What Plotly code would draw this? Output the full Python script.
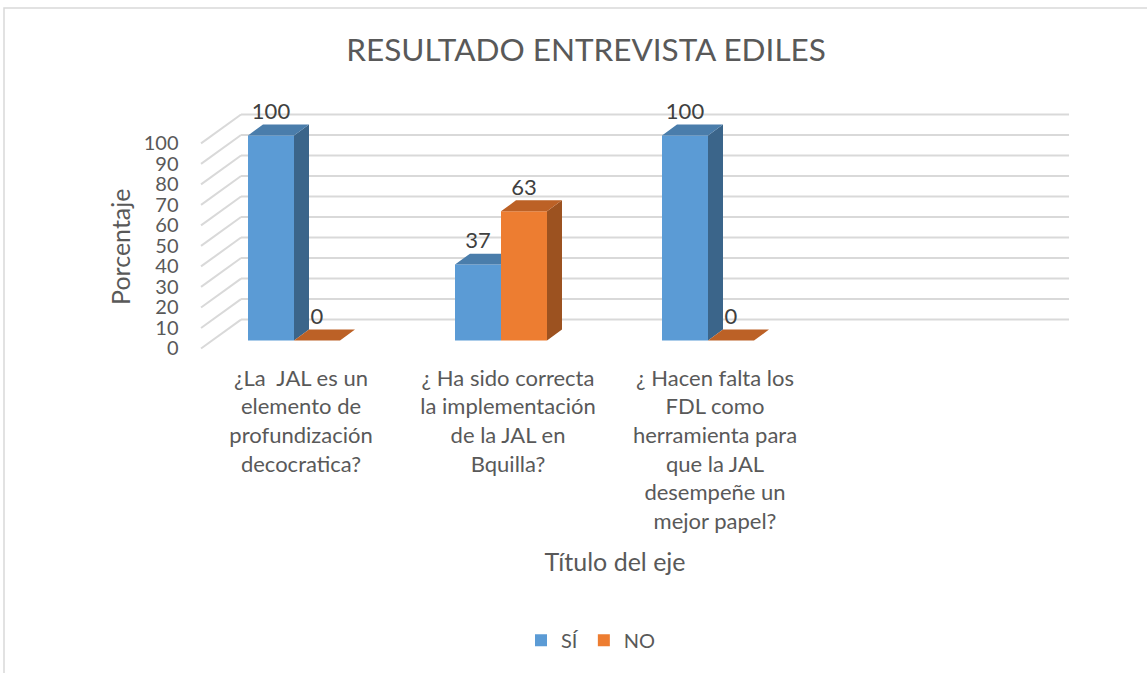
import plotly.graph_objects as go

# ---------------- data ----------------
categories = [
    "¿La  JAL es un<br>elemento de<br>profundización<br>decocratica?",
    "¿ Ha sido correcta<br>la implementación<br>de la JAL en<br>Bquilla?",
    "¿ Hacen falta los<br>FDL como<br>herramienta para<br>que la JAL<br>desempeñe un<br>mejor papel?",
]
series_names = ["SÍ", "NO"]
si_values = [100, 37, 100]
no_values = [0, 63, 0]
y_ticks = [0, 10, 20, 30, 40, 50, 60, 70, 80, 90, 100]
chart_title = "RESULTADO ENTREVISTA EDILES"
y_title = "Porcentaje"
x_title = "Título del eje"

# ---------------- styling / geometry ----------------
W, H = 1147, 673
FONT = "Lato"
TXT = "#595959"
front_cols = ["#5B9BD5", "#ED7D31"]
side_cols = ["#3B658A", "#9C5220"]
top_cols = ["#4A7DAB", "#BC6126"]
GRID = "#D9D9D9"

CAT_PX = 207.0      # pixels per category
VAL_PX = 2.06       # pixels per value unit
X0_PX = 294.0       # pixel of category 0 (bar plane)
Y0_PX = 339.0       # pixel of value 0 (bar plane)
XR = [-0.5, 3.8]
YR = [-6, 125]
YR3 = [-6, 105]
XR4 = [-0.5, 3.534]

bw = 46 / CAT_PX                     # bar width in category units
dx, dy = 15 / CAT_PX, 11 / VAL_PX    # bar depth
fx, fy = -11 / CAT_PX, -8 / VAL_PX   # front plane offset
bx, by = 29 / CAT_PX, 21 / VAL_PX    # back plane offset
wall_l, wall_r = -0.396, 3.604

def xdom(rng, shift_px=0):
    return [(X0_PX + rng[0] * CAT_PX + shift_px) / W, (X0_PX + rng[1] * CAT_PX + shift_px) / W]

def ydom(rng, base_px):
    return [1 - (base_px - rng[0] * VAL_PX) / H, 1 - (base_px - rng[1] * VAL_PX) / H]

fig = go.Figure()

offsets = [-bw, 0.0]
all_vals = [si_values, no_values]
idx = list(range(len(categories)))

for s, (name, vals) in enumerate(zip(series_names, all_vals)):
    fig.add_trace(go.Bar(
        x=idx, y=vals, name=name, width=[bw] * len(idx), offset=[offsets[s]] * len(idx),
        marker=dict(color=front_cols[s], line=dict(width=0)),
        zorder=2 * s, hoverinfo="skip",
    ))
    sx, sy, tx, ty = [], [], [], []
    for i, v in enumerate(vals):
        xl = i + offsets[s]
        xr = xl + bw
        h = all_vals[s + 1][i] if s + 1 < len(all_vals) else 0
        if h < v + dy:
            lo = max(h, 0)
            if lo <= 0:
                sx += [xr, xr + dx, xr + dx, xr, xr, None]
                sy += [0, dy, v + dy, v, 0, None]
            else:
                sx += [xr, xr + dx, xr + dx, xr, xr, None]
                sy += [min(lo, v), max(lo, dy), v + dy, v, min(lo, v), None]
        tx += [xl, xl + dx, xr + dx, xr, xl, None]
        ty += [v, v + dy, v + dy, v, v, None]
    fig.add_trace(go.Scatter(x=sx, y=sy, mode="lines", fill="toself", fillcolor=side_cols[s],
                             line=dict(width=0, color=side_cols[s]), showlegend=False,
                             hoverinfo="skip", zorder=2 * s + 1))
    fig.add_trace(go.Scatter(x=tx, y=ty, mode="lines", fill="toself", fillcolor=top_cols[s],
                             line=dict(width=0, color=top_cols[s]), showlegend=False,
                             hoverinfo="skip", zorder=2 * s + 1))
    fig.add_trace(go.Scatter(
        x=[i + offsets[s] + bw / 2 for i in idx], y=[v + dy for v in vals],
        text=[str(v) for v in vals], mode="text", textposition="top center",
        textfont=dict(family=FONT, size=22, color="#404040"),
        showlegend=False, hoverinfo="skip", zorder=10,
    ))

fig.add_trace(go.Scatter(x=[None], y=[None], xaxis="x3", yaxis="y3", showlegend=False, hoverinfo="skip"))
fig.add_trace(go.Scatter(x=[None], y=[None], xaxis="x4", yaxis="y3", showlegend=False, hoverinfo="skip"))

shapes = []
for v in y_ticks:
    shapes.append(dict(type="line", xref="x", yref="y", x0=wall_l + bx, y0=v + by,
                       x1=wall_r + bx, y1=v + by, line=dict(color=GRID, width=2), layer="below"))
    shapes.append(dict(type="line", xref="x", yref="y", x0=wall_l + fx, y0=v + fy,
                       x1=wall_l + bx, y1=v + by, line=dict(color=GRID, width=2), layer="below"))
shapes.append(dict(type="rect", xref="paper", yref="paper", x0=4 / W, y0=1 - 5 / H, x1=1.01, y1=-0.01,
                   line=dict(color="#D9D9D9", width=1.5)))

fig.update_layout(
    width=W, height=H,
    margin=dict(l=0, r=0, t=0, b=0),
    paper_bgcolor="white", plot_bgcolor="rgba(0,0,0,0)",
    barmode="overlay",
    font=dict(family=FONT, color=TXT),
    title=dict(text=chart_title, x=0.511, xanchor="center",
               y=1 - 50 / H, yanchor="middle",
               font=dict(family=FONT, size=31.5, color=TXT)),
    xaxis=dict(domain=xdom(XR), range=XR, visible=False, fixedrange=True),
    yaxis=dict(domain=ydom(YR, Y0_PX), range=YR, visible=False, fixedrange=True),
    xaxis3=dict(domain=xdom(XR), range=XR, visible=False, anchor="y3"),
    yaxis3=dict(domain=ydom(YR3, Y0_PX + 8), range=YR3, anchor="x3", tickvals=y_ticks,
                ticktext=[str(t) for t in y_ticks], showgrid=False, zeroline=False,
                showline=False, ticks="", ticklabelstandoff=11,
                tickfont=dict(family=FONT, size=20, color=TXT)),
    xaxis4=dict(domain=xdom(XR4, 7), range=XR4, anchor="y3", tickvals=idx, ticktext=categories,
                showgrid=False, zeroline=False, showline=False, ticks="", ticklabelstandoff=2,
                tickfont=dict(family=FONT, size=22, color=TXT),
                title=dict(text=x_title, font=dict(family=FONT, size=25, color=TXT), standoff=20)),
    annotations=[dict(text=y_title, textangle=-90, xref="paper", yref="paper",
                      x=120 / W, y=1 - 245 / H, xanchor="center", yanchor="middle", showarrow=False,
                      font=dict(family=FONT, size=25, color=TXT))],
    legend=dict(orientation="h", x=591 / W, xanchor="center", y=1 - 640 / H, yanchor="middle",
                font=dict(family=FONT, size=20, color=TXT), traceorder="normal"),
    shapes=shapes,
    showlegend=True,
)

fig.write_html("out.html", post_script="document.body.style.margin='0';",
               config={"displayModeBar": False})
